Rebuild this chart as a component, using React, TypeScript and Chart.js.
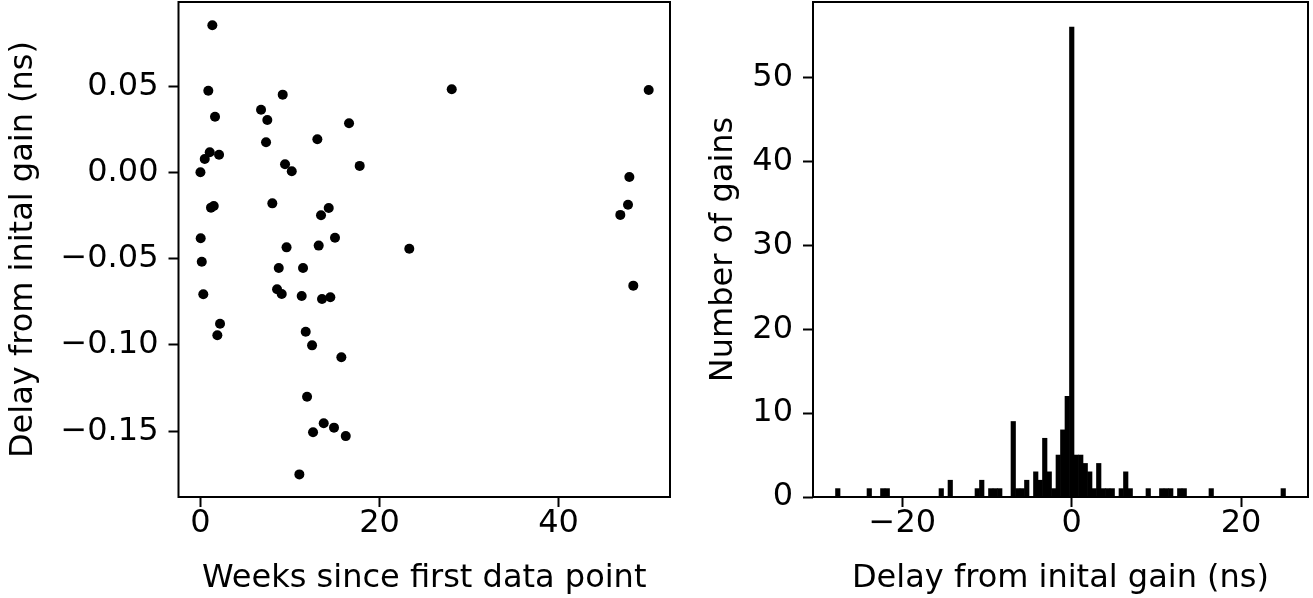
import React, { useEffect, useRef } from "react";
import { Chart, registerables } from "chart.js";
Chart.register(...registerables);

// ---- Left panel: scatter ----
const weeks = [1.33, 0.88, 9.19, 6.77, 1.63, 7.47, 16.6, 13.06, 7.33, 1.04, 2.08, 0.48, 0.0, 9.45, 10.2, 17.79, 8.03, 1.18, 1.49, 14.33, 13.47, 0.03, 15.03, 9.62, 13.21, 23.33, 0.15, 8.75, 11.46, 8.56, 9.08, 0.32, 11.31, 13.58, 14.51, 2.19, 1.89, 11.76, 12.47, 15.74, 11.91, 13.77, 14.92, 12.58, 16.23, 11.05, 28.07, 50.07, 47.91, 47.76, 46.9, 48.35];
const delays = [0.0853, 0.0474, 0.0451, 0.0364, 0.0323, 0.0304, 0.0285, 0.0192, 0.0175, 0.0117, 0.0103, 0.0078, 0.0001, 0.0048, 0.0007, 0.0038, -0.0179, -0.0204, -0.0194, -0.0206, -0.0248, -0.0381, -0.0378, -0.0434, -0.0424, -0.0442, -0.0517, -0.0554, -0.0554, -0.0677, -0.0704, -0.0706, -0.0716, -0.0733, -0.0723, -0.0877, -0.0944, -0.0923, -0.1002, -0.1071, -0.13, -0.1454, -0.1479, -0.1506, -0.1528, -0.175, 0.0482, 0.0478, -0.0026, -0.0187, -0.0246, -0.0656];
const scatterXTicks = [0, 20, 40];
const scatterYTicks = [-0.15, -0.1, -0.05, 0, 0.05];

// ---- Right panel: histogram (100 bins) ----
const HIST_MIN = -27.89;
const HIST_MAX = 25.24;
const histCounts = [
  1, 0, 0, 0, 0, 0, 0, 1, 0, 0,
  1, 1, 0, 0, 0, 0, 0, 0, 0, 0,
  0, 0, 0, 1, 0, 2, 0, 0, 0, 0,
  0, 1, 2, 0, 1, 1, 1, 0, 0, 9,
  1, 1, 2, 0, 3, 2, 7, 3, 1, 5,
  8, 12, 56, 5, 5, 4, 3, 1, 4, 1,
  1, 1, 0, 1, 3, 1, 0, 0, 0, 1,
  0, 0, 1, 1, 1, 0, 1, 1, 0, 0,
  0, 0, 0, 1, 0, 0, 0, 0, 0, 0,
  0, 0, 0, 0, 0, 0, 0, 0, 0, 1,
];
const histXTicks = [-20, 0, 20];
const histYTicks = [0, 10, 20, 30, 40, 50];

const W = 1313;
const H = 598;
const FONT = "DejaVu Sans";
const FS = 32;

const minus = (s: string) => s.replace("-", "\u2212");

const framePlugin = {
  id: "frame",
  afterDraw(chart: any) {
    const { ctx, chartArea } = chart;
    const { left, top, right, bottom } = chartArea;
    ctx.save();
    ctx.strokeStyle = "#000";
    ctx.lineWidth = 2;
    ctx.strokeRect(left, top, right - left, bottom - top);
    ctx.restore();
  },
};

function axis(opts: {
  min: number;
  max: number;
  ticks: number[];
  fmt: (v: number) => string;
  size: number;
  title: string;
  titlePad: any;
  tickPad: number;
}) {
  return {
    type: "linear",
    min: opts.min,
    max: opts.max,
    offset: false,
    afterBuildTicks: (scale: any) => {
      scale.ticks = opts.ticks.map((v) => ({ value: v }));
    },
    afterFit: (scale: any) => {
      if (scale.isHorizontal()) scale.height = opts.size;
      else scale.width = opts.size;
      scale.paddingLeft = 0;
      scale.paddingRight = 0;
      scale.paddingTop = 0;
      scale.paddingBottom = 0;
    },
    grid: {
      display: true,
      offset: false,
      drawOnChartArea: false,
      drawTicks: true,
      tickLength: 10,
      tickWidth: 2,
      tickColor: "#000",
      color: "#000",
    },
    border: { display: false },
    ticks: {
      color: "#000",
      font: { family: FONT, size: FS },
      padding: opts.tickPad,
      autoSkip: false,
      maxRotation: 0,
      minRotation: 0,
      callback: (v: any) => opts.fmt(Number(v)),
    },
    title: {
      display: true,
      text: opts.title,
      color: "#000",
      font: { family: FONT, size: FS },
      padding: opts.titlePad,
    },
  };
}

export default function App() {
  const leftRef = useRef<HTMLCanvasElement>(null);
  const rightRef = useRef<HTMLCanvasElement>(null);

  useEffect(() => {
    const points = weeks.map((w, i) => ({ x: w, y: delays[i] }));
    const left = new Chart(leftRef.current!, {
      type: "scatter",
      data: {
        datasets: [
          {
            data: points,
            backgroundColor: "#000",
            borderColor: "#000",
            pointRadius: 5,
            pointBorderWidth: 0,
            pointHoverRadius: 5,
          },
        ],
      },
      options: {
        responsive: false,
        animation: false,
        devicePixelRatio: 1,
        layout: { autoPadding: false, padding: { left: 0, top: 2, right: W - 670, bottom: 0 } },
        plugins: { legend: { display: false }, tooltip: { enabled: false } },
        scales: {
          x: axis({
            min: -2.45,
            max: 52.45,
            ticks: scatterXTicks,
            fmt: (v) => minus(String(v)),
            size: H - 497,
            title: "Weeks since first data point",
            titlePad: { top: 0, bottom: 0 },
            tickPad: -3,
          }),
          y: axis({
            min: -0.1881,
            max: 0.0988,
            ticks: scatterYTicks,
            fmt: (v) => minus(v.toFixed(2)),
            size: 178.5,
            title: "Delay from inital gain (ns)",
            titlePad: { top: 4, bottom: 0 },
            tickPad: 10,
          }),
        },
      } as any,
      plugins: [framePlugin],
    });

    const binW = (HIST_MAX - HIST_MIN) / histCounts.length;
    const bars = histCounts.map((c, i) => ({ x: HIST_MIN + (i + 0.5) * binW, y: c }));
    const right = new Chart(rightRef.current!, {
      type: "bar",
      data: {
        datasets: [
          {
            data: bars,
            backgroundColor: "#000",
            borderWidth: 0,
            barPercentage: 1,
            categoryPercentage: 1,
          },
        ],
      },
      options: {
        responsive: false,
        animation: false,
        devicePixelRatio: 1,
        layout: { autoPadding: false, padding: { left: 700, top: 2, right: W - 1308, bottom: 0 } },
        plugins: { legend: { display: false }, tooltip: { enabled: false } },
        scales: {
          x: axis({
            min: -30.55,
            max: 27.9,
            ticks: histXTicks,
            fmt: (v) => minus(String(v)),
            size: H - 497,
            title: "Delay from inital gain (ns)",
            titlePad: { top: 0, bottom: 0 },
            tickPad: -3,
          }),
          y: axis({
            min: 0,
            max: 59,
            ticks: histYTicks,
            fmt: (v) => String(v),
            size: 813 - 700,
            title: "Number of gains",
            titlePad: { top: 4, bottom: 0 },
            tickPad: 10,
          }),
        },
      } as any,
      plugins: [framePlugin],
    });

    return () => {
      left.destroy();
      right.destroy();
    };
  }, []);

  const cs: React.CSSProperties = { position: "absolute", left: 0, top: 0, width: W, height: H };
  return (
    <div style={{ position: "fixed", left: 0, top: 0, width: W, height: H, background: "#fff" }}>
      <canvas ref={leftRef} width={W} height={H} style={cs} />
      <canvas ref={rightRef} width={W} height={H} style={cs} />
    </div>
  );
}
